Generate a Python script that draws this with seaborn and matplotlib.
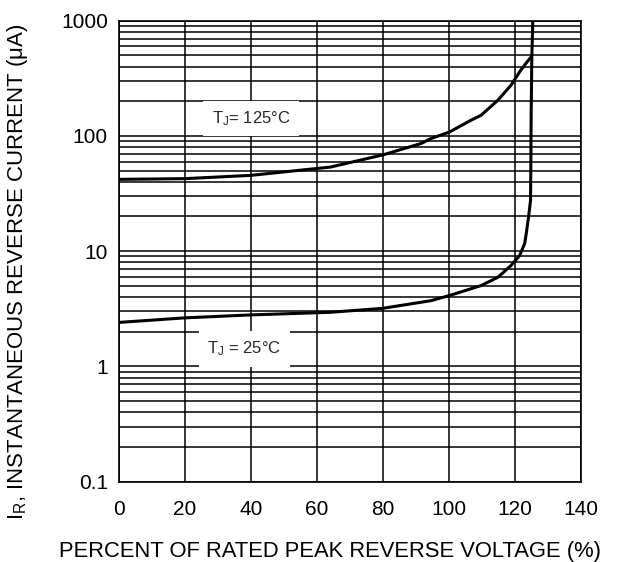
import numpy as np
import pandas as pd
import seaborn as sns
import matplotlib.pyplot as plt
from matplotlib.ticker import FixedLocator, LogLocator, NullFormatter

# 125 C curve (percent of rated voltage, current in uA)
x_125 = [0, 20, 40, 64.1, 80, 91.5, 94.5, 100.1, 106.7, 109.7, 114.8, 118.8, 121.4, 122.9, 124.9]
y_125 = [42.0, 42.6, 45.5, 53.7, 68.5, 85.9, 94.9, 108, 137, 151, 204, 276, 360, 412, 486]

# 25 C curve incl. the near-vertical breakdown part
x_25 = [0, 20, 40, 64.1, 79.8, 94.5, 100.1, 109.7, 114.8, 118.8, 121.4, 122.9, 123.4,
        124.1, 124.7, 124.8, 124.9, 125.1, 125.4]
y_25 = [2.41, 2.64, 2.80, 2.95, 3.19, 3.72, 4.12, 5.03, 5.94, 7.51, 9.18, 11.6, 14.2,
        19.8, 27.6, 60, 167, 490, 1050]

x_ticks = [0, 20, 40, 60, 80, 100, 120, 140]
y_ticks = [0.1, 1, 10, 100, 1000]
y_tick_labels = ["0.1", "1", "10", "100", "1000"]

sns.set_theme(style="white")
plt.rcParams["font.family"] = ["Liberation Sans", "DejaVu Sans"]
plt.rcParams["mathtext.fontset"] = "custom"
plt.rcParams["mathtext.rm"] = "Liberation Sans"
plt.rcParams["mathtext.it"] = "Liberation Sans"

fig, ax = plt.subplots(figsize=(6.31, 5.62), dpi=100)
fig.subplots_adjust(left=0.1886, right=0.9208, top=0.9632, bottom=0.1429)

df125 = pd.DataFrame({"x": x_125, "y": y_125})
df25 = pd.DataFrame({"x": x_25, "y": y_25})
sns.lineplot(data=df125, x="x", y="y", ax=ax, color="black", linewidth=2.2, sort=False, zorder=5)
sns.lineplot(data=df25, x="x", y="y", ax=ax, color="black", linewidth=2.2, sort=False, zorder=5)

ax.set_yscale("log")
ax.set_xlim(0, 140)
ax.set_ylim(0.1, 1000)
ax.xaxis.set_major_locator(FixedLocator(x_ticks))
ax.yaxis.set_major_locator(FixedLocator(y_ticks))
ax.set_yticklabels(y_tick_labels)
ax.yaxis.set_minor_locator(LogLocator(base=10, subs=np.arange(2, 10)))
ax.yaxis.set_minor_formatter(NullFormatter())
ax.grid(True, which="major", color="black", linewidth=1.1)
ax.grid(True, which="minor", axis="y", color="black", linewidth=1.1)
ax.tick_params(which="both", length=0, labelsize=15, colors="black")
ax.tick_params(axis="x", pad=13)
ax.tick_params(axis="y", pad=8)
for s in ax.spines.values():
    s.set_color("black")
    s.set_linewidth(1.2)

ax.set_xlabel("PERCENT OF RATED PEAK REVERSE VOLTAGE (%)", fontsize=15.8, color="black")
ax.set_ylabel(r"$\mathregular{I_R}$, INSTANTANEOUS REVERSE CURRENT (μA)", fontsize=16, color="black")
ax.xaxis.set_label_coords(0.457, -0.128)
ax.yaxis.set_label_coords(-0.193, 0.455)

box = dict(facecolor="white", edgecolor="none", pad=6)
ax.text(40, 142, r"$\mathregular{T_J}$= 125°C", fontsize=12, ha="center", va="center", bbox=box, zorder=4)
ax.text(38, 1.42, r"$\mathregular{T_J}$ = 25°C", fontsize=12, ha="center", va="center", bbox=box, zorder=4)

plt.savefig("out.png", dpi=100)
